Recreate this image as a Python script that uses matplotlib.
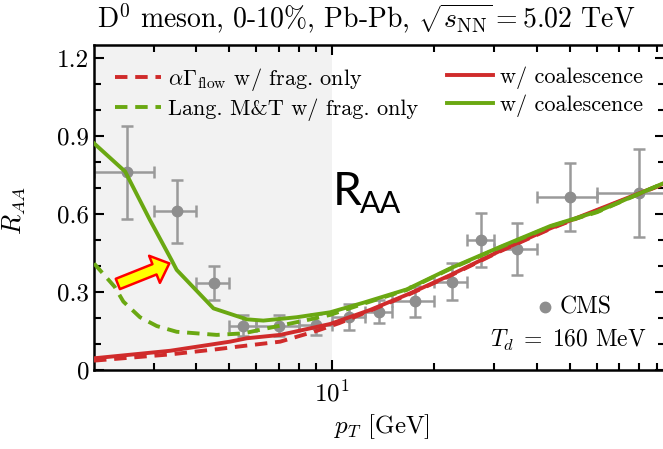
import matplotlib
matplotlib.use('Agg')
import matplotlib.pyplot as plt
from matplotlib.lines import Line2D
from matplotlib.ticker import FixedLocator, MultipleLocator, FuncFormatter, NullFormatter
import numpy as np

plt.rcParams['font.family'] = ['cmr10', 'DejaVu Serif']
plt.rcParams['mathtext.fontset'] = 'cm'
plt.rcParams['axes.formatter.use_mathtext'] = True
plt.rcParams['axes.unicode_minus'] = False

RED = '#d02b2b'
GREEN = '#6aa812'
GRAY = '#8e8e8e'

# CMS D0 R_AA, 0-10% Pb-Pb
cms_pt = [2.5, 3.5, 4.5, 5.5, 7.0, 9.0, 11.25, 13.75, 17.5, 22.5, 27.5, 35.0, 50.0, 80.0]
cms_pt_lo = [2, 3, 4, 5, 6, 8, 10, 12.5, 15, 20, 25, 30, 40, 60]
cms_pt_hi = [3, 4, 5, 6, 8, 10, 12.5, 15, 20, 25, 30, 40, 60, 100]
cms_raa = [0.76, 0.61, 0.335, 0.17, 0.17, 0.175, 0.205, 0.225, 0.265, 0.34, 0.50, 0.465, 0.665, 0.68]
cms_err = [0.18, 0.12, 0.065, 0.04, 0.04, 0.04, 0.05, 0.045, 0.06, 0.07, 0.105, 0.10, 0.13, 0.17]

# Langevin M&T
lang_coal_pt = [2.0, 2.47, 2.92, 3.38, 3.5, 4.49, 5.62, 6.29, 7.89, 9.89, 12.4, 16.6, 22.3, 31.3, 43.9, 60.2, 95.0]
lang_coal_raa = [0.872, 0.763, 0.577, 0.423, 0.385, 0.237, 0.195, 0.19, 0.203, 0.222, 0.259, 0.31, 0.391, 0.474, 0.554, 0.609, 0.72]
lang_frag_pt = [2.0, 2.30, 2.44, 2.73, 3.06, 3.5, 4.59, 5.5, 6.44, 8.45, 9.89, 12.4, 16.6, 22.3, 31.3, 43.9, 60.2, 95.0]
lang_frag_raa = [0.41, 0.32, 0.263, 0.203, 0.169, 0.147, 0.135, 0.141, 0.16, 0.192, 0.212, 0.255, 0.308, 0.389, 0.472, 0.552, 0.607, 0.72]

# alpha Gamma_flow
flow_coal_pt = [2.0, 3.35, 5.02, 5.62, 7.05, 9.89, 12.96, 17.0, 22.3, 31.3, 43.9, 95.0]
flow_coal_raa = [0.045, 0.074, 0.109, 0.122, 0.135, 0.177, 0.231, 0.295, 0.365, 0.459, 0.545, 0.718]
flow_frag_pt = [2.0, 3.35, 4.6, 5.3, 7.05, 9.0, 10.5, 12.96, 17.0, 22.3, 31.3, 43.9, 95.0]
flow_frag_raa = [0.036, 0.060, 0.080, 0.090, 0.109, 0.150, 0.180, 0.228, 0.293, 0.363, 0.457, 0.543, 0.716]

fig = plt.figure(figsize=(6.63, 4.49), dpi=100)
ax = fig.add_axes([94 / 663, 79 / 449, 570.5 / 663, 325 / 449])
ax.set_xscale('log')
ax.set_xlim(2, 95)
ax.set_ylim(0, 1.25)

# hadronization region
ax.axvspan(2, 10, color='#f2f2f2', lw=0, zorder=0)

xerr = [np.array(cms_pt) - np.array(cms_pt_lo), np.array(cms_pt_hi) - np.array(cms_pt)]
ax.errorbar(cms_pt, cms_raa, xerr=xerr, yerr=cms_err, fmt='o', ms=7.5, color=GRAY,
            ecolor='#9a9a9a', elinewidth=1.8, capsize=4, capthick=1.8, zorder=2, clip_on=True)

ax.plot(flow_frag_pt, flow_frag_raa, color=RED, lw=2.8, ls=(0, (3.2, 2)), zorder=3)
ax.plot(flow_coal_pt, flow_coal_raa, color=RED, lw=2.8, zorder=3)
ax.plot(lang_frag_pt, lang_frag_raa, color=GREEN, lw=2.8, ls=(0, (3.2, 2)), zorder=4)
ax.plot(lang_coal_pt, lang_coal_raa, color=GREEN, lw=2.8, zorder=4)

# ticks
ax.xaxis.set_major_locator(FixedLocator([10, 100]))
ax.xaxis.set_minor_locator(FixedLocator([3, 4, 5, 6, 7, 8, 9, 20, 30, 40, 50, 60, 70, 80, 90]))
ax.xaxis.set_major_formatter(FuncFormatter(lambda v, p: r'$10^{1}$' if v == 10 else ''))
ax.xaxis.set_minor_formatter(NullFormatter())
ax.yaxis.set_major_locator(MultipleLocator(0.3))
ax.yaxis.set_minor_locator(MultipleLocator(0.1))
ax.yaxis.set_major_formatter(FuncFormatter(lambda v, p: f'{v:g}'))
ax.tick_params(which='both', direction='in', top=True, right=True, width=1.5, labelsize=18)
ax.tick_params(which='major', length=7)
ax.tick_params(which='minor', length=5)
ax.tick_params(axis='x', pad=8)
for s in ax.spines.values():
    s.set_linewidth(1.8)

ax.set_xlabel(r'$p_T$ [GeV]', fontsize=18)
ax.xaxis.set_label_coords(0.505, -0.13)
ax.set_ylabel(r'$R_{AA}$', fontsize=19)
ax.yaxis.set_label_coords(-0.115, 0.49)

fig.text(97 / 663, 1 - 27 / 449, r'D$^0$ meson, 0-10%, Pb-Pb, $\sqrt{s_{\rm NN}} = 5.02$ TeV',
         fontsize=20, ha='left', va='baseline')

# legends
h_flow_frag = Line2D([], [], color=RED, lw=2.8, ls=(0, (3.2, 2)))
h_lang_frag = Line2D([], [], color=GREEN, lw=2.8, ls=(0, (3.2, 2)))
h_flow_coal = Line2D([], [], color=RED, lw=2.8)
h_lang_coal = Line2D([], [], color=GREEN, lw=2.8)
leg_kw = dict(loc='upper left', frameon=False, fontsize=16, borderpad=0, borderaxespad=0,
              handlelength=2.05, handletextpad=0.33, labelspacing=0.25)
leg1 = ax.legend([h_flow_frag, h_lang_frag],
                 [r'$\alpha\Gamma_{\rm flow}$ w/ frag. only', 'Lang. M&T w/ frag. only'],
                 bbox_to_anchor=(0.037, 0.935), **leg_kw)
ax.add_artist(leg1)
ax.legend([h_flow_coal, h_lang_coal], ['w/ coalescence', 'w/ coalescence'],
          bbox_to_anchor=(0.619, 0.935), **leg_kw)

# CMS marker and decoupling temperature
ax.plot([0.7905], [0.193], 'o', ms=7.5, color=GRAY, transform=ax.transAxes, clip_on=False)
ax.text(0.816, 0.193, 'CMS', fontsize=17, ha='left', va='center', transform=ax.transAxes)
ax.text(0.969, 0.092, r'$T_d\;=\;160$ MeV', fontsize=17, ha='right', va='center', transform=ax.transAxes)

# big R_AA label
ax.text(0.419, 0.508, 'R', family='Lato', fontsize=33, ha='left', va='baseline', transform=ax.transAxes)
ax.text(0.466, 0.483, 'AA', family='Lato', fontsize=22, ha='left', va='baseline', transform=ax.transAxes)

# arrow pointing at the coalescence bump
ax.annotate('', xy=(3.33, 0.41), xytext=(2.35, 0.331),
            arrowprops=dict(arrowstyle='simple,head_length=1.15,head_width=2.1,tail_width=0.8',
                            fc='#ffff00', ec='#ff0000', lw=1.8, mutation_scale=10,
                            shrinkA=0, shrinkB=0), zorder=5)

fig.savefig('out.png', dpi=100)
